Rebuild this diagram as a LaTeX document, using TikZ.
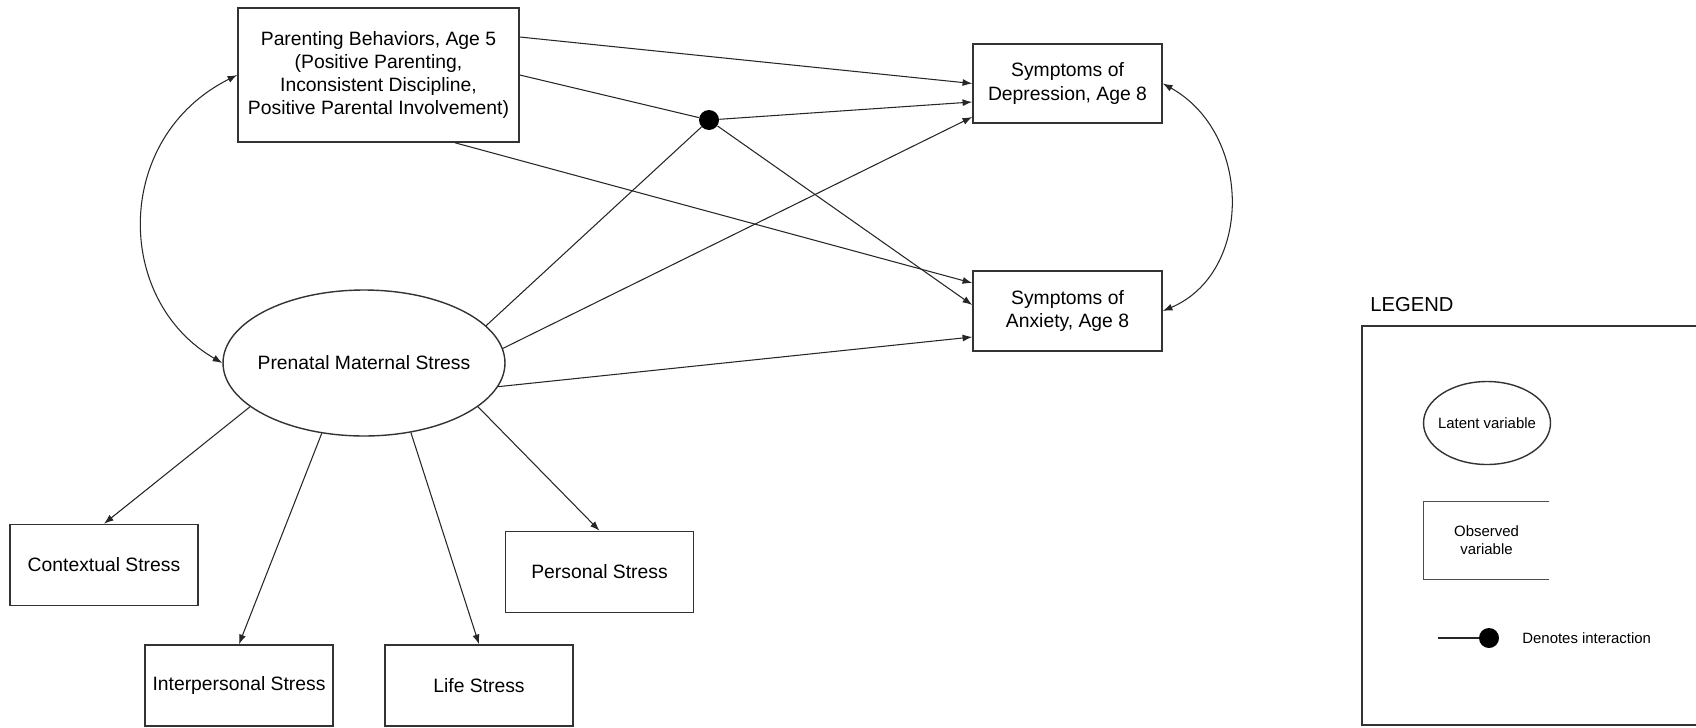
\documentclass[tikz,border=0pt]{standalone}
\usepackage{fontspec}
\setmainfont{Liberation Sans}
\usetikzlibrary{arrows.meta,shapes.geometric}

\begin{document}
\begin{tikzpicture}[x=0.02cm, y=-0.02cm, >={Latex[length=5.5pt,width=4pt]},
  obs/.style={draw=black!80, line width=0.9pt, align=center, inner sep=0pt, font=\fontsize{11}{13.2}\selectfont},
  stressbox/.style={obs, minimum width=3.76cm, minimum height=1.62cm},
  latent/.style={ellipse, draw=black!80, line width=0.8pt, inner ysep=0pt, inner xsep=-5pt, font=\fontsize{11}{13.2}\selectfont},
  dot/.style={circle, fill=black, inner sep=0pt, minimum size=0.4cm},
  lnk/.style={draw=black!85, line width=0.6pt},
  small/.style={font=\fontsize{8.5}{10.2}\selectfont}]
 \useasboundingbox (0,0) rectangle (1696,727);

 \node[obs, minimum width=5.62cm, minimum height=2.68cm] (par) at (378.5,75) {Parenting Behaviors, Age 5\\(Positive Parenting,\\Inconsistent Discipline,\\Positive Parental Involvement)};
 \node[obs, minimum width=3.78cm, minimum height=1.58cm] (dep) at (1067.5,83.5) {Symptoms of\\Depression, Age 8};
 \node[obs, minimum width=3.78cm, minimum height=1.6cm] (anx) at (1067.5,311) {Symptoms of\\Anxiety, Age 8};
 \node[latent, minimum width=5.64cm, minimum height=2.92cm] (pms) at (364,363) {Prenatal Maternal Stress};
 \node[dot] (int) at (709,120) {};

 \node[stressbox] (ctx) at (104,565) {Contextual Stress};
 \node[stressbox] (inter) at (239,685.5) {Interpersonal Stress};
 \node[stressbox] (life) at (479,685.5) {Life Stress};
 \node[stressbox] (pers) at (599.5,572) {Personal Stress};

 % structural paths
 \draw[lnk,->] ([yshift=0.76cm]par.east) -- (dep.west);
 \draw[lnk] (par.east) -- (int);
 \draw[lnk,->] (int) -- ([yshift=-0.37cm]dep.west);
 \draw[lnk,->] (int) -- ([yshift=0.12cm]anx.west);
 \draw[lnk,->] ([xshift=1.53cm]par.south) -- ([yshift=0.56cm]anx.west);
 \draw[lnk] (pms.17) -- (int);
 \draw[lnk,->] (pms.6) -- ([yshift=-0.67cm]dep.west);
 \draw[lnk,->] (pms.350) -- ([yshift=-0.52cm]anx.west);
 \draw[lnk,<->] (par.west) .. controls +(-124,62) and +(-109,-63) .. (pms.west);
 \draw[lnk,<->] (dep.east) .. controls +(90,50) and +(90,-38) .. (anx.east);

 % indicators
 \draw[lnk,->] (pms.201) -- (ctx.north);
 \draw[lnk,->] (pms.239) -- (inter.north);
 \draw[lnk,->] (pms.304) -- (life.north);
 \draw[lnk,->] (pms.339) -- (pers.north);

 % legend
 \node[anchor=west, inner sep=0pt, font=\fontsize{11.5}{13}\selectfont] (lgtitle) at (1370,305) {LEGEND};
 \draw[draw=black!80, line width=0.9pt] (1700,326) -| (1362,725) -- (1700,725);
 \node[latent, small, minimum width=2.54cm, minimum height=1.66cm] (lglat) at (1487,423) {Latent variable};
 \node[small, align=center, inner sep=0pt, minimum width=2.5cm, minimum height=1.54cm] (lgobs) at (1486.5,540.5) {Observed\\variable};
 \draw[draw=black!70, line width=0.9pt] (lgobs.north east) -- (lgobs.north west) -- (lgobs.south west) -- (lgobs.south east);
 \coordinate (lgstart) at (1438,638);
 \node[dot] (lgdot) at (1489,638) {};
 \draw[lnk] (lgstart) -- (lgdot);
 \node[small, anchor=west, inner sep=0pt] (lgint) at (1522,638) {Denotes interaction};
\end{tikzpicture}
\end{document}
